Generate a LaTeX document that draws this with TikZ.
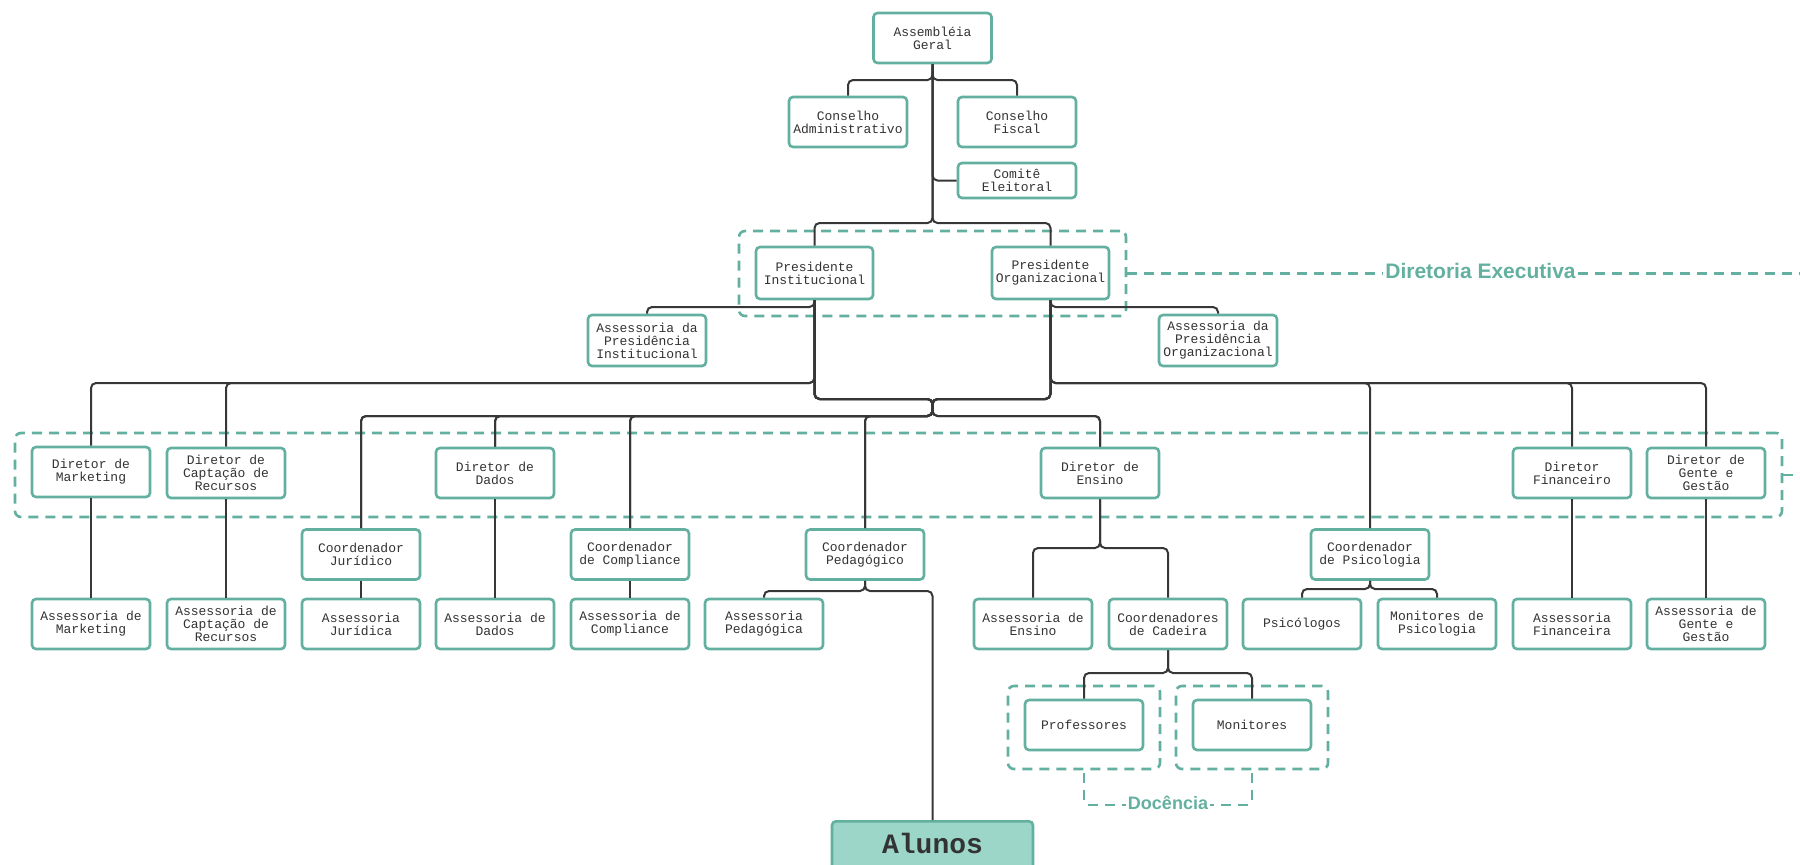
\documentclass[tikz,border=0pt]{standalone}
\usepackage{fontspec}
\setmainfont{Liberation Sans}
\setmonofont{Liberation Mono}
\usetikzlibrary{calc}

\definecolor{teal1}{RGB}{99,176,160}
\definecolor{alunfill}{RGB}{156,214,201}
\definecolor{ink}{RGB}{51,51,51}
\definecolor{wire}{RGB}{55,55,55}

\tikzset{
  unit/.style={draw=teal1, line width=2.6pt, rounded corners=4pt, fill=white,
    minimum width=118pt, minimum height=50pt, inner sep=0pt, align=center,
    text=ink, font=\ttfamily\fontsize{13}{13}\selectfont},
  conn/.style={draw=wire, line width=2pt, rounded corners=5pt},
  grp/.style={draw=teal1, line width=2.6pt, dash pattern=on 10pt off 7pt,
    rounded corners=6pt, inner sep=0pt},
  grpline/.style={draw=teal1, line width=2.6pt, dash pattern=on 10pt off 7pt},
  tag/.style={text=teal1, inner sep=2pt},
}

% parent.south -> down to a given level -> across -> child.north
\newcommand\orgbranch[3]{\draw[conn] (#1.south) -- (#1.south |- 0,#2) -| (#3.north);}
\newcommand\orgdrop[2]{\draw[conn] (#1.south) -- (#2.north);}

\begin{document}
\begin{tikzpicture}[x=1pt,y=-1pt]
\useasboundingbox (0,0) rectangle (1800,865);
\clip (0,0) rectangle (1800,865);

% ---------- group frames ----------
\node[grp, minimum width=387pt, minimum height=85pt] (dexbox) at (932.5,273.5) {};
\node[grp, minimum width=1767pt, minimum height=84pt] (dirbox) at (898.5,475) {};
\node[grp, minimum width=152pt, minimum height=83pt] (profgrp) at (1084,727.5) {};
\node[grp, minimum width=152pt, minimum height=83pt] (mongrp) at (1252,727.5) {};

% ---------- governance ----------
\node[unit] (ag) at (932.5,38) {Assembléia\\Geral};
\node[unit] (ca) at (848,122) {Conselho\\Administrativo};
\node[unit] (cf) at (1017,122) {Conselho\\Fiscal};
\node[unit, minimum height=35pt] (ce) at (1017,180.5) {Comitê\\Eleitoral};

% ---------- presidency ----------
\node[unit, minimum width=117pt, minimum height=52pt] (pi) at (814.5,273) {Presidente\\Institucional};
\node[unit, minimum width=117pt, minimum height=52pt] (po) at (1050.5,273) {Presidente\\Organizacional};
\node[unit, minimum height=51pt] (api) at (647,340.5) {Assessoria da\\Presidência\\Institucional};
\node[unit, minimum height=51pt] (apo) at (1218,340.5) {Assessoria da\\Presidência\\Organizacional};

% ---------- directors ----------
\node[unit] (dm) at (91,472) {Diretor de\\Marketing};
\node[unit] (dc) at (226,473) {Diretor de\\Captação de\\Recursos};
\node[unit] (dd) at (495,473) {Diretor de\\Dados};
\node[unit] (de) at (1100,473) {Diretor de\\Ensino};
\node[unit] (df) at (1572,473) {Diretor\\Financeiro};
\node[unit] (dg) at (1706,473) {Diretor de\\Gente e\\Gestão};

% ---------- coordinators ----------
\node[unit] (cj) at (361,554.5) {Coordenador\\Jurídico};
\node[unit] (cc) at (630,554.5) {Coordenador\\de Compliance};
\node[unit] (cp) at (865,554.5) {Coordenador\\Pedagógico};
\node[unit] (cpsi) at (1370,554.5) {Coordenador\\de Psicologia};

% ---------- advisory and teams ----------
\node[unit] (am) at (91,624) {Assessoria de\\Marketing};
\node[unit] (ac) at (226,624) {Assessoria de\\Captação de\\Recursos};
\node[unit] (aj) at (361,624) {Assessoria\\Jurídica};
\node[unit] (ad) at (495,624) {Assessoria de\\Dados};
\node[unit] (acomp) at (630,624) {Assessoria de\\Compliance};
\node[unit] (aped) at (764,624) {Assessoria\\Pedagógica};
\node[unit] (aens) at (1033,624) {Assessoria de\\Ensino};
\node[unit] (ccad) at (1168,624) {Coordenadores\\de Cadeira};
\node[unit] (psi) at (1302,624) {Psicólogos};
\node[unit] (mpsi) at (1437,624) {Monitores de\\Psicologia};
\node[unit] (af) at (1572,624) {Assessoria\\Financeira};
\node[unit] (agg) at (1706,624) {Assessoria de\\Gente e\\Gestão};

\node[unit] (prof) at (1084,725) {Professores};
\node[unit] (mon) at (1252,725) {Monitores};

\node[unit, fill=alunfill, anchor=north, minimum width=201pt, minimum height=60pt,
      text height=18pt, text depth=14pt,
      font=\ttfamily\bfseries\fontsize{28}{28}\selectfont] (alunos) at (932.5,820) {Alunos};

% ---------- group labels ----------
\node[tag, font=\bfseries\fontsize{21}{21}\selectfont] (dextag) at (1480.5,271) {Diretoria Executiva};
\coordinate (dexend) at (1800,273.5);
\draw[grpline] (dexbox.east) -- (dextag.west |- dexbox.east);
\draw[grpline] (dextag.east |- dexend) -- (dexend);
\coordinate (dirtick) at (1793,475);
\draw[teal1, line width=2.6pt] (dirbox.east) -- (dirtick);

\node[tag, font=\bfseries\fontsize{18}{18}\selectfont] (doctag) at (1168,803) {Docência};
\draw[grpline, rounded corners=4pt] ([yshift=-3pt]profgrp.south) |- ([yshift=-2pt]doctag.west);
\draw[grpline, rounded corners=4pt] ([yshift=-3pt]mongrp.south) |- ([yshift=-2pt]doctag.east);

% ---------- connectors ----------
\orgbranch{ag}{80}{ca}
\orgbranch{ag}{80}{cf}
\draw[conn] (ag.south) |- (ce.west);
\orgbranch{ag}{223}{pi}
\orgbranch{ag}{223}{po}

\orgbranch{pi}{307}{api}
\orgbranch{po}{307}{apo}

\orgbranch{pi}{383}{dm}
\orgbranch{pi}{383}{dc}
\orgbranch{po}{383}{cpsi}
\orgbranch{po}{383}{df}
\orgbranch{po}{383}{dg}

% both presidencies join and feed the central directorates
\foreach \p in {pi,po}
  \foreach \c in {cj,dd,cc,cp,de}
    \draw[conn] (\p.south) -- (\p.south |- 0,399) -- (932.5,399) -- (932.5,416) -| (\c.north);

\orgdrop{dm}{am}
\orgdrop{dc}{ac}
\orgdrop{cj}{aj}
\orgdrop{dd}{ad}
\orgdrop{cc}{acomp}
\orgdrop{df}{af}
\orgdrop{dg}{agg}

\orgbranch{cp}{591}{aped}
\orgbranch{cp}{591}{alunos}
\orgbranch{de}{548}{aens}
\orgbranch{de}{548}{ccad}
\orgbranch{cpsi}{589}{psi}
\orgbranch{cpsi}{589}{mpsi}
\orgbranch{ccad}{673}{prof}
\orgbranch{ccad}{673}{mon}
\end{tikzpicture}
\end{document}
